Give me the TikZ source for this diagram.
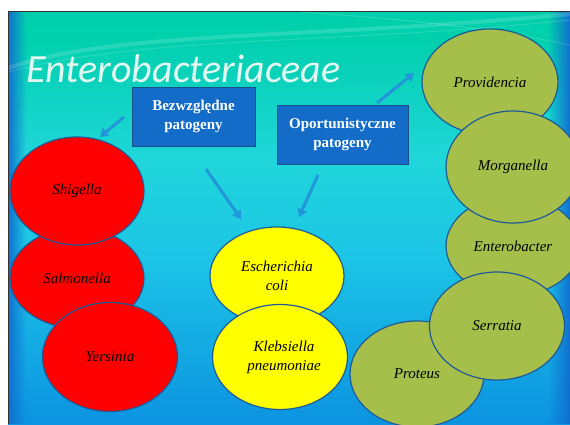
\documentclass[tikz,border=0pt]{standalone}
\usepackage{fontspec}
\setmainfont{Liberation Serif}
\newfontfamily\titlefont{Carlito}
\usetikzlibrary{shapes.geometric,arrows.meta,fadings}
\definecolor{bgA}{HTML}{005EBE}
\definecolor{bgB}{HTML}{0A8EE0}
\definecolor{bgC}{HTML}{1CC4E6}
\definecolor{bgD}{HTML}{20D6DA}
\definecolor{bgE}{HTML}{00D0AC}
\definecolor{bgF}{HTML}{06C4A4}
\definecolor{edgeblue}{HTML}{1F5A96}
\definecolor{redfill}{HTML}{FF0000}
\definecolor{yelfill}{HTML}{FFFF00}
\definecolor{grnfill}{HTML}{A6BF4B}
\definecolor{boxfill}{HTML}{126CC8}
\definecolor{boxedge}{HTML}{1A4F8A}
\definecolor{arrowblue}{HTML}{2196D8}
\definecolor{titlecol}{HTML}{E2F8F0}
\definecolor{sideblue}{HTML}{1070D0}
\pgfdeclareverticalshading{slidebg}{100bp}{color(0bp)=(bgA); color(23bp)=(bgB); color(45bp)=(bgC); color(57bp)=(bgD); color(72bp)=(bgE); color(100bp)=(bgF)}
\tikzfading[name=fadeR, left color=transparent!0, right color=transparent!100]
\tikzfading[name=fadeL, left color=transparent!100, right color=transparent!0]
\tikzset{
  bug/.style={ellipse, draw=edgeblue, line width=1.2pt, inner sep=0pt, align=center,
    font=\itshape\fontsize{15}{19}\selectfont, text=black},
  catbox/.style={rectangle, draw=boxedge, line width=1pt, fill=boxfill, text=white, align=center,
    font=\bfseries\fontsize{15}{19}\selectfont, inner sep=0pt},
  flow/.style={draw=arrowblue, line width=3pt, -{Triangle[width=10pt,length=8pt]}}
}
\begin{document}
\begin{tikzpicture}[x=1pt,y=-1pt]
\useasboundingbox (0,0) rectangle (570,424);
\fill[white] (0,0) rectangle (570,424);
% slide background
\shade[shading=slidebg] (8,11) rectangle (570,424);
\fill[sideblue, path fading=fadeR] (8,11) rectangle (26,424);
\fill[sideblue, path fading=fadeL] (548,11) rectangle (570,424);
\draw[white, opacity=0.15, line width=4pt] (8,68) .. controls (120,30) and (300,40) .. (570,14);
\draw[white, opacity=0.15, line width=1pt] (300,12) .. controls (420,20) and (500,30) .. (570,45);
\draw[white, opacity=0.15, line width=1pt] (8,72) .. controls (150,35) and (330,45) .. (570,20);
\draw[black!80, line width=1pt] (8,424) -- (8,11) -- (570,11);
% title
\node[anchor=base west, inner sep=0pt, text=titlecol, font=\titlefont\itshape\fontsize{40}{40}\selectfont] (title) at (26,82) {Enterobacteriaceae};
% red group
\node[bug, fill=redfill, minimum width=134pt, minimum height=100pt] (salm) at (77,278) {Salmonella};
\node[bug, fill=redfill, minimum width=134pt, minimum height=108pt] (shig) at (77,191) {Shigella};
\node[bug, fill=redfill, minimum width=135pt, minimum height=109pt] (yers) at (110,357) {Yersinia};
% yellow group
\node[bug, fill=yelfill, minimum width=134pt, minimum height=98pt] (esch) at (277,276) {Escherichia\\coli};
\node[bug, fill=yelfill, minimum width=135pt, minimum height=105pt] (kleb) at (280,357) {\hspace*{8pt}Klebsiella\\\hspace*{8pt}pneumoniae};
% green group
\node[bug, fill=grnfill, minimum width=136pt, minimum height=106pt] (prov) at (490,82) {Providencia};
\node[bug, fill=grnfill, minimum width=134pt, minimum height=100pt] (entb) at (513,246) {Enterobacter};
\node[bug, fill=grnfill, minimum width=134pt, minimum height=112pt] (morg) at (513,167) {Morganella};
\node[bug, fill=grnfill, minimum width=134pt, minimum height=106pt] (prot) at (417,374) {Proteus};
\node[bug, fill=grnfill, minimum width=135pt, minimum height=108pt] (serr) at (497,326) {Serratia};
% boxes
\node[catbox, minimum width=123pt, minimum height=59pt] (bez) at (193.5,116.5) {Bezwzględne\\patogeny};
\node[catbox, minimum width=131pt, minimum height=59pt] (opo) at (342.5,134.5) {Oportunistyczne\\patogeny};
% arrows
\coordinate (a1s) at (124,117); \coordinate (a1e) at (100,137);
\coordinate (a2s) at (206,169); \coordinate (a2e) at (241,219);
\coordinate (a3s) at (318,175); \coordinate (a3e) at (299,217);
\coordinate (a4s) at (377,103); \coordinate (a4e) at (414,73);
\draw[flow] (a1s) -- (a1e);
\draw[flow] (a2s) -- (a2e);
\draw[flow] (a3s) -- (a3e);
\draw[flow] (a4s) -- (a4e);
\end{tikzpicture}
\end{document}
